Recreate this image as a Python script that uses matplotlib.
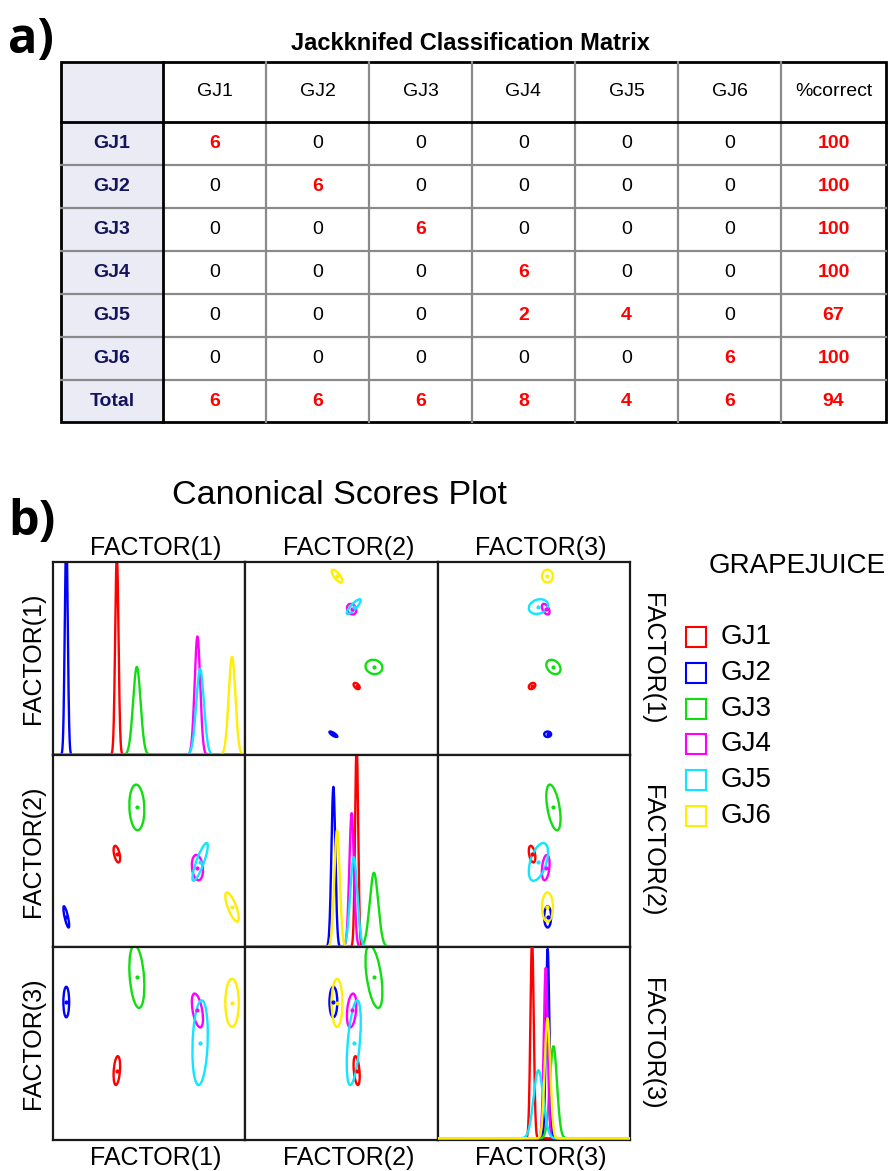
import numpy as np
import matplotlib.pyplot as plt
from matplotlib.patches import Ellipse, Rectangle

plt.rcParams['font.family'] = ['Liberation Sans', 'DejaVu Sans']

W, H = 893, 1171

# ---- a) jackknifed classification matrix ----
groups = ['GJ1', 'GJ2', 'GJ3', 'GJ4', 'GJ5', 'GJ6']
matrix = [[6, 0, 0, 0, 0, 0],
          [0, 6, 0, 0, 0, 0],
          [0, 0, 6, 0, 0, 0],
          [0, 0, 0, 6, 0, 0],
          [0, 0, 0, 2, 4, 0],
          [0, 0, 0, 0, 0, 6]]
pct_correct = [100, 100, 100, 100, 67, 100]
totals = [6, 6, 6, 8, 4, 6]
total_pct = 94

# ---- b) canonical scores, per group (GJ1..GJ6) ----
colors = ['#ff0000', '#0000ff', '#11dd11', '#ff00ff', '#11e5ff', '#ffee00']
factors = ['FACTOR(1)', 'FACTOR(2)', 'FACTOR(3)']
means = [[33.2, 6.9, 43.6, 75.1, 76.5, 93.1],    # factor 1
         [57.9, 45.8, 66.9, 55.3, 56.4, 47.7],   # factor 2
         [49.1, 57.2, 60.2, 56.2, 52.4, 57.1]]   # factor 3
sds = [[0.85, 0.75, 1.95, 1.45, 2.0, 1.75],
       [0.8, 1.02, 2.2, 1.22, 1.82, 1.4],
       [0.85, 0.9, 1.85, 1.0, 2.5, 1.42]]
corr_12 = [-0.5, -0.8, -0.1, -0.2, 0.85, -0.75]
corr_13 = [0.3, 0.0, -0.3, -0.5, 0.2, 0.0]
corr_23 = [-0.4, 0.0, -0.5, 0.3, 0.5, 0.0]
corr = {(0, 1): corr_12, (0, 2): corr_13, (1, 2): corr_23}

fig = plt.figure(figsize=(W / 100, H / 100), dpi=100)
bg = fig.add_axes([0, 0, 1, 1])
bg.set_xlim(0, W)
bg.set_ylim(H, 0)
bg.axis('off')

# table geometry (pixels)
col_x = [61, 163, 266, 369, 472, 575, 678, 781, 886]
row_y = [62, 122, 165, 208, 251, 294, 337, 380, 422]
navy = '#14145e'

bg.text(8, 40, 'a)', fontsize=35, fontweight='bold', family='Open Sans', va='center')
bg.text(470, 43, 'Jackknifed Classification Matrix', fontsize=17, fontweight='bold',
        ha='center', va='center')
bg.add_patch(Rectangle((col_x[0], row_y[0]), col_x[1] - col_x[0], row_y[-1] - row_y[0],
                       fc='#ebebf5', ec='none'))
for y in row_y[2:-1]:
    bg.plot([col_x[0], col_x[-1]], [y, y], color='#8a8a8a', lw=1.6)
for x in col_x[2:-1]:
    bg.plot([x, x], [row_y[0], row_y[-1]], color='#8a8a8a', lw=1.6)
bg.plot([col_x[0], col_x[-1]], [row_y[1], row_y[1]], color='k', lw=2)
bg.plot([col_x[1], col_x[1]], [row_y[0], row_y[-1]], color='k', lw=2)
bg.add_patch(Rectangle((col_x[0], row_y[0]), col_x[-1] - col_x[0], row_y[-1] - row_y[0],
                       fc='none', ec='k', lw=2))

cx = [(a + b) / 2 for a, b in zip(col_x[:-1], col_x[1:])]
cy = [(a + b) / 2 for a, b in zip(row_y[:-1], row_y[1:])]
for j, lab in enumerate(groups + ['%correct']):
    bg.text(cx[j + 1], cy[0], lab, fontsize=14, ha='center', va='center')
rows = [m + [p] for m, p in zip(matrix, pct_correct)] + [totals + [total_pct]]
for i, (lab, vals) in enumerate(zip(groups + ['Total'], rows)):
    bg.text(cx[0], cy[i + 1], lab, fontsize=14, fontweight='bold', color=navy,
            ha='center', va='center')
    for j, v in enumerate(vals):
        hot = v != 0
        bg.text(cx[j + 1], cy[i + 1], str(v), fontsize=14, ha='center', va='center',
                color='#ff0000' if hot else 'k', fontweight='bold' if hot else 'normal')

# ---- b) scatter-plot matrix ----
px = [53, 245.3, 437.6, 630]
py = [562, 755, 947, 1140]
xlims = [(0, 100), (0, 100), (0, 100)]
ylims = [(-4.4, 100.8), (40, 77), (40.9, 63.7)]
dens_top = [0.448, 0.469, 0.448]
grid = np.linspace(0, 100, 1001)

bg.text(8, 522, 'b)', fontsize=35, fontweight='bold', family='Open Sans', va='center')
bg.text(340, 496, 'Canonical Scores Plot', fontsize=24.5, ha='center', va='center')

for r in range(3):
    for c in range(3):
        ax = fig.add_axes([px[c] / W, 1 - py[r + 1] / H,
                           (px[c + 1] - px[c]) / W, (py[r + 1] - py[r]) / H])
        ax.set_xticks([])
        ax.set_yticks([])
        for s in ax.spines.values():
            s.set_linewidth(1.6)
            s.set_color('#1a1a1a')
        ax.set_xlim(*xlims[c])
        if r == c:
            z = 3 if r == 2 else 2
            for g in range(6):
                m, s = means[c][g], sds[c][g]
                d = np.exp(-0.5 * ((grid - m) / s) ** 2) / (s * np.sqrt(2 * np.pi))
                ax.plot(grid, d, color=colors[g], lw=1.7, zorder=z)
            # last panel: baseline sits just on top of the frame
            ax.set_ylim(-0.004 if r == 2 else 0, dens_top[c])
        else:
            rho = corr[(min(r, c), max(r, c))]
            for g in range(6):
                mx, my = means[c][g], means[r][g]
                sx, sy = sds[c][g], sds[r][g]
                k = rho[g]
                cov = np.array([[sx * sx, k * sx * sy], [k * sx * sy, sy * sy]])
                vals, vecs = np.linalg.eigh(cov)
                ang = np.degrees(np.arctan2(vecs[1, 1], vecs[0, 1]))
                ax.add_patch(Ellipse((mx, my), 4 * np.sqrt(vals[1]), 4 * np.sqrt(vals[0]),
                                     angle=ang, fill=False, ec=colors[g], lw=1.7))
                ax.plot([mx], [my], 'o', ms=2, color=colors[g])
            ax.set_ylim(*ylims[r])

for i, f in enumerate(factors):
    xc = (px[i] + px[i + 1]) / 2
    yc = (py[i] + py[i + 1]) / 2
    bg.text(xc + 7, 548, f, fontsize=18, ha='center', va='center')
    bg.text(xc + 7, 1158, f, fontsize=18, ha='center', va='center')
    bg.text(33, yc, f, fontsize=18, ha='center', va='center', rotation=90)
    bg.text(652, yc, f, fontsize=18, ha='center', va='center', rotation=270)

# legend
bg.text(797, 566, 'GRAPEJUICE', fontsize=20, ha='center', va='center')
for g, (lab, col) in enumerate(zip(groups, colors)):
    yc = 637 + g * 35.8
    bg.add_patch(Rectangle((686, yc - 10), 20, 20, fc='none', ec=col, lw=1.5))
    bg.text(721, yc, lab, fontsize=20, ha='left', va='center')

fig.savefig('out.png', dpi=100)
